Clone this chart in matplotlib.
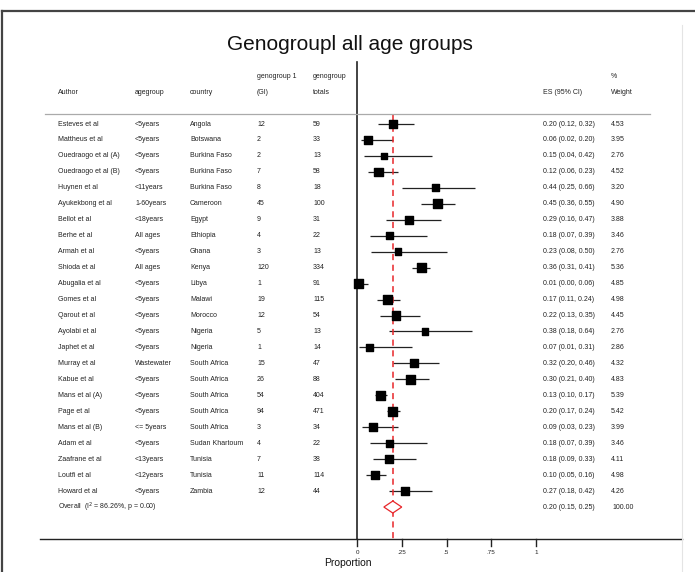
import matplotlib
matplotlib.use("Agg")
import matplotlib.pyplot as plt
import matplotlib.transforms as mtransforms
import numpy as np

plt.rcParams['font.family'] = ['Liberation Sans', 'DejaVu Sans']

authors = ["Esteves et al", "Mattheus et al", "Ouedraogo et al (A)", "Ouedraogo et al (B)",
           "Huynen et al", "Ayukekbong et al", "Bellot et al", "Berhe et al", "Armah et al",
           "Shioda et al", "Abugalia et al", "Gomes et al", "Qarout et al", "Ayolabi et al",
           "Japhet et al", "Murray et al", "Kabue et al", "Mans et al (A)", "Page et al",
           "Mans et al (B)", "Adam et al", "Zaafrane et al", "Loutfi et al", "Howard et al"]
agegroups = ["<5years", "<5years", "<5years", "<5years", "<11years", "1-60years", "<18years",
             "All ages", "<5years", "All ages", "<5years", "<5years", "<5years", "<5years",
             "<5years", "Wastewater", "<5years", "<5years", "<5years", "<= 5years", "<5years",
             "<13years", "<12years", "<5years"]
countries = ["Angola", "Botswana", "Burkina Faso", "Burkina Faso", "Burkina Faso", "Cameroon",
             "Egypt", "Ethiopia", "Ghana", "Kenya", "Libya", "Malawi", "Morocco", "Nigeria",
             "Nigeria", "South Africa", "South Africa", "South Africa", "South Africa",
             "South Africa", "Sudan Khartoum", "Tunisia", "Tunisia", "Zambia"]
gi = [12, 2, 2, 7, 8, 45, 9, 4, 3, 120, 1, 19, 12, 5, 1, 15, 26, 54, 94, 3, 4, 7, 11, 12]
totals = [59, 33, 13, 58, 18, 100, 31, 22, 13, 334, 91, 115, 54, 13, 14, 47, 88, 404, 471,
          34, 22, 38, 114, 44]
es = [0.20, 0.06, 0.15, 0.12, 0.44, 0.45, 0.29, 0.18, 0.23, 0.36, 0.01, 0.17, 0.22, 0.38,
      0.07, 0.32, 0.30, 0.13, 0.20, 0.09, 0.18, 0.18, 0.10, 0.27]
ci_lo = [0.12, 0.02, 0.04, 0.06, 0.25, 0.36, 0.16, 0.07, 0.08, 0.31, 0.00, 0.11, 0.13, 0.18,
         0.01, 0.20, 0.21, 0.10, 0.17, 0.03, 0.07, 0.09, 0.05, 0.18]
ci_hi = [0.32, 0.20, 0.42, 0.23, 0.66, 0.55, 0.47, 0.39, 0.50, 0.41, 0.06, 0.24, 0.35, 0.64,
         0.31, 0.46, 0.40, 0.17, 0.24, 0.23, 0.39, 0.33, 0.16, 0.42]
weights = [4.53, 3.95, 2.76, 4.52, 3.20, 4.90, 3.88, 3.46, 2.76, 5.36, 4.85, 4.98, 4.45, 2.76,
           2.86, 4.32, 4.83, 5.39, 5.42, 3.99, 3.46, 4.11, 4.98, 4.26]
overall_es, overall_lo, overall_hi = 0.20, 0.15, 0.25
overall_label = "Overall  (I^2 = 86.26%, p = 0.00)"
xticks = [0, 0.25, 0.5, 0.75, 1]
xtick_labels = ["0", ".25", ".5", ".75", "1"]

W, H = 695, 572
fig = plt.figure(figsize=(W / 100, H / 100), dpi=100)

# pixel layout of the original
x0_px, px_per_unit = 357, 179
row0_px, row_step = 124, 15.96


def ry(py):
    return (py - row0_px) / row_step


def fx(px):
    return px / W


def fy(py):
    return 1 - py / H


ax = fig.add_axes([0, 0, 1, 1])
ax.set_xlim(-x0_px / px_per_unit, (W - x0_px) / px_per_unit)
ax.set_ylim(ry(H), ry(0))
ax.axis("off")

red = "#e8262a"
tc = "#222222"
fs = 5

# frame
fig.add_artist(plt.Line2D([fx(2), fx(2)], [fy(11), 0], color="#444444", lw=1.6))
fig.add_artist(plt.Line2D([fx(2), 1], [fy(11), fy(11)], color="#444444", lw=1.6))
fig.add_artist(plt.Line2D([fx(682), fx(682)], [fy(25), 0], color="#e4e4e4", lw=0.8))

fig.text(fx(350), fy(45), "Genogroupl all age groups", fontsize=15, ha="center",
         va="center", color="#111111")

# header
hdr = [(58, 93, "Author"), (135, 93, "agegroup"), (190, 93, "country"),
       (257, 77, "genogroup 1"), (257, 93, "(GI)"), (313, 77, "genogroup"),
       (313, 93, "totals"), (543, 93, "ES (95% CI)"), (611, 77, "%"), (611, 93, "Weight")]
for hx, hy, t in hdr:
    fig.text(fx(hx), fy(hy), t, fontsize=fs, va="center", color=tc)
fig.add_artist(plt.Line2D([fx(45), fx(650)], [fy(114), fy(114)], color="#aaaaaa", lw=0.9))

rows = np.arange(len(authors))
trans = mtransforms.blended_transform_factory(fig.transFigure, ax.transData)
for i in rows:
    cols = [(58, authors[i]), (135, agegroups[i]), (190, countries[i]), (257, str(gi[i])),
            (313, str(totals[i])), (543, f"{es[i]:.2f} ({ci_lo[i]:.2f}, {ci_hi[i]:.2f})"),
            (611, f"{weights[i]:.2f}")]
    for cx, t in cols:
        ax.text(fx(cx), i, t, transform=trans, fontsize=fs, va="center", color=tc)

orow = len(authors)
ax.text(fx(58), orow, "Overall  (I$^2$ = 86.26%, p = 0.00)", transform=trans, fontsize=fs,
        va="center", color=tc)
ax.text(fx(543), orow, f"{overall_es:.2f} ({overall_lo:.2f}, {overall_hi:.2f})",
        transform=trans, fontsize=fs, va="center", color=tc)
ax.text(fx(612), orow, "100.00", transform=trans, fontsize=fs, va="center", color=tc)

# forest
ax.hlines(rows, ci_lo, ci_hi, color="#222222", lw=0.9)
side_pt = 3.9 * np.sqrt(weights) * 0.72
ax.scatter(es, rows, marker="s", s=side_pt ** 2, color="black", zorder=3)

ax.plot([0, 0], [ry(62), ry(539)], color="#222222", lw=1.2)
ax.plot([overall_es, overall_es], [ry(115), ry(539)], color=red, lw=1.1, ls=(0, (4, 3)))
h = 6 / row_step
ax.fill([overall_lo, overall_es, overall_hi, overall_es, overall_lo],
        [orow, orow - h, orow, orow + h, orow], facecolor="white", edgecolor=red, lw=0.9,
        zorder=4)

# x axis
ax.plot([(40 - x0_px) / px_per_unit, (682 - x0_px) / px_per_unit], [ry(539), ry(539)],
        color="#222222", lw=1.0)
for xt, lab in zip(xticks, xtick_labels):
    ax.plot([xt, xt], [ry(539), ry(546)], color="#222222", lw=1.0)
    ax.text(xt, ry(553), lab, fontsize=4.5, ha="center", va="center", color=tc)
ax.text((348 - x0_px) / px_per_unit, ry(563), "Proportion", fontsize=7.5, ha="center",
        va="center", color="#111111")

fig.savefig("out.png", dpi=100)
